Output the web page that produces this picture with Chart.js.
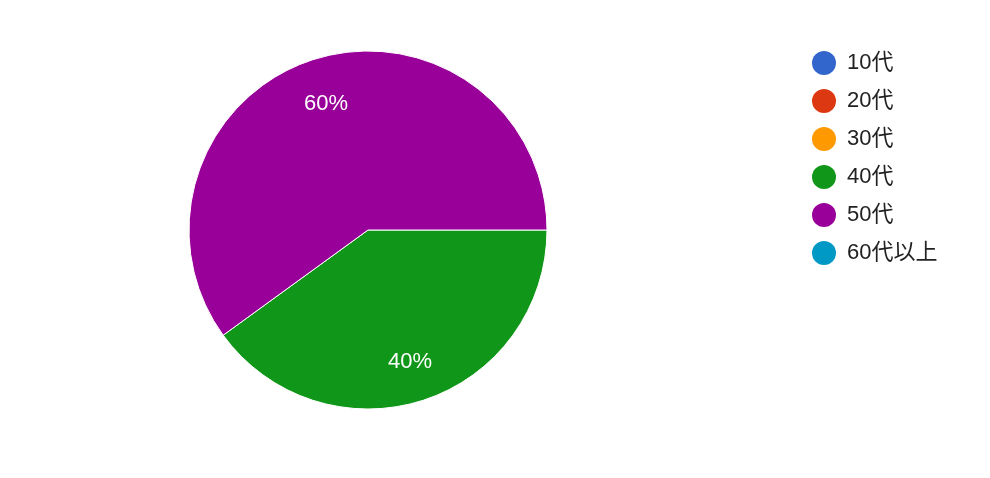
<!DOCTYPE html>
<html>
<head>
<meta charset="utf-8">
<script src="https://cdn.jsdelivr.net/npm/chart.js@4"></script>
<style>
  html, body { margin: 0; padding: 0; background: #fff; }
</style>
</head>
<body>
<canvas id="age-pie" width="990" height="478"></canvas>
<script>
const ageLabels = ['10代', '20代', '30代', '40代', '50代', '60代以上'];
const agePercents = [0, 0, 0, 40, 60, 0];
const sliceColors = ['#3366cc', '#dc3912', '#ff9900', '#109618', '#990099', '#0099c6'];

const fontFamily = "Arial, 'Liberation Sans', 'Noto Sans CJK JP', sans-serif";

// percent text inside each slice
const sliceLabels = {
  id: 'sliceLabels',
  afterDatasetsDraw (chart) {
    const { ctx } = chart;
    const meta = chart.getDatasetMeta(0);
    ctx.save();
    ctx.fillStyle = '#ffffff';
    ctx.font = '22px ' + fontFamily;
    ctx.textAlign = 'center';
    ctx.textBaseline = 'middle';
    meta.data.forEach((arc, i) => {
      const value = agePercents[i];
      if (!value) return;
      const { x, y, startAngle, endAngle, outerRadius } = arc.getProps(['x', 'y', 'startAngle', 'endAngle', 'outerRadius'], true);
      const mid = (startAngle + endAngle) / 2;
      const r = outerRadius * 0.76;
      ctx.fillText(value + '%', x + Math.cos(mid) * r, y + Math.sin(mid) * r + 3);
    });
    ctx.restore();
  }
};

// legend sits further right than the layout would put it, and gets the rest of the width
const legendShift = {
  id: 'legendShift',
  afterLayout (chart) {
    chart.legend.left = 796;
    chart.legend.right = chart.width;
    chart.legend.width = chart.width - 796;
  }
};

// eslint-disable-next-line no-undef
const baseLabels = Chart.overrides.doughnut.plugins.legend.labels.generateLabels;

// eslint-disable-next-line no-undef
const agePie = new Chart('age-pie', {
  type: 'pie',
  data: {
    labels: ageLabels,
    datasets: [
      { data: agePercents, backgroundColor: sliceColors, borderColor: '#ffffff', borderWidth: 1, radius: 179 }
    ]
  },
  options: {
    responsive: false,
    animation: false,
    rotation: 90,
    layout: {
      padding: { left: 0, right: 124, top: 36, bottom: 54 }
    },
    plugins: {
      tooltip: { enabled: false },
      legend: {
        position: 'right',
        align: 'start',
        maxWidth: 130,
        labels: {
          usePointStyle: true,
          pointStyle: 'circle',
          pointStyleWidth: 24,
          boxHeight: 17,
          padding: 16,
          color: '#222222',
          font: { size: 22, family: fontFamily },
          generateLabels (chart) {
            return baseLabels(chart).map(item => Object.assign(item, { lineWidth: 0, hidden: false }));
          }
        }
      }
    }
  },
  plugins: [sliceLabels, legendShift]
});
</script>
</body>
</html>
